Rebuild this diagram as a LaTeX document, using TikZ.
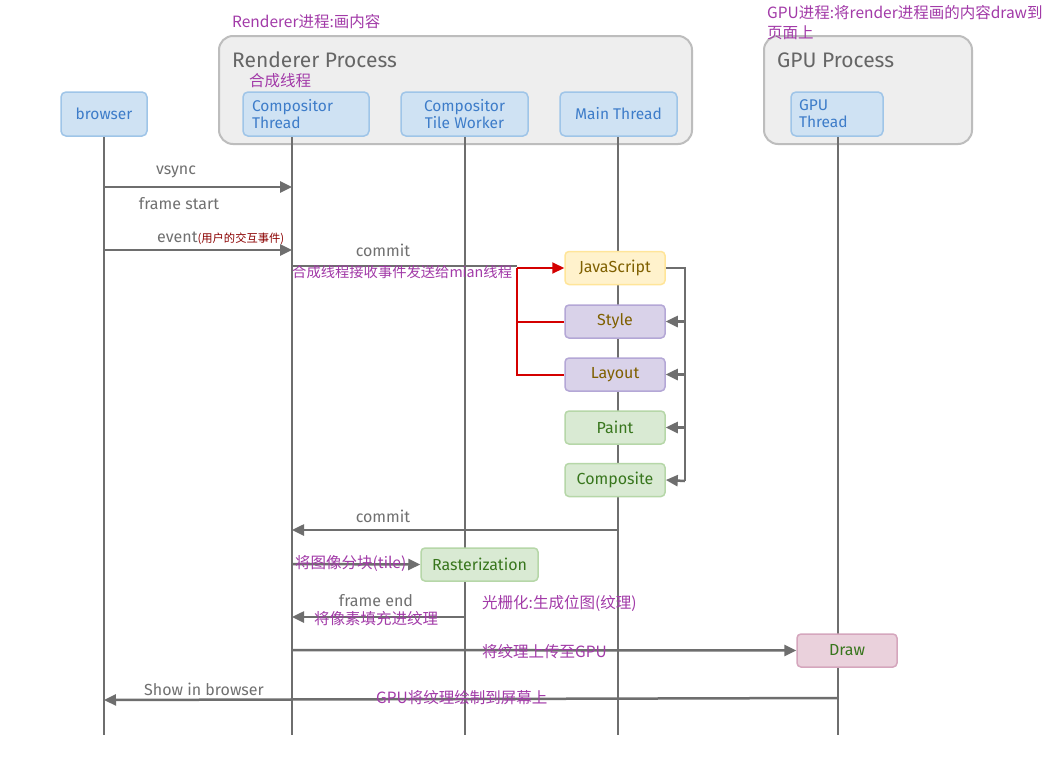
\documentclass[tikz,border=0pt]{standalone}
\usepackage{fontspec}
\setmainfont{Fira Sans}
\newfontfamily\cjk{Noto Sans CJK SC}
\usetikzlibrary{arrows.meta}
\definecolor{lline}{HTML}{6E6E6E}
\definecolor{blfill}{HTML}{CFE2F3}
\definecolor{bldraw}{HTML}{9FC5E8}
\definecolor{bltext}{HTML}{3D7CC9}
\definecolor{procfill}{HTML}{EEEEEE}
\definecolor{procdraw}{HTML}{BDBDBD}
\definecolor{proctext}{HTML}{666666}
\definecolor{ylfill}{HTML}{FFF2CC}
\definecolor{yldraw}{HTML}{FFE599}
\definecolor{yltext}{HTML}{7F6000}
\definecolor{pufill}{HTML}{D9D2E9}
\definecolor{pudraw}{HTML}{B4A7D6}
\definecolor{grfill}{HTML}{D9EAD3}
\definecolor{grdraw}{HTML}{B6D7A8}
\definecolor{grtext}{HTML}{38761D}
\definecolor{pkfill}{HTML}{EAD1DC}
\definecolor{pkdraw}{HTML}{D5A6BD}
\definecolor{note}{HTML}{A23AA8}
\definecolor{darkred}{HTML}{8B0000}
\definecolor{redline}{HTML}{D40000}
\definecolor{msgtext}{HTML}{707070}
\begin{document}
\begin{tikzpicture}[x=1pt,y=-1pt,
  proc/.style={draw=procdraw, fill=procfill, line width=2pt, rounded corners=14pt},
  proctitle/.style={text=proctext, font=\fontsize{21}{23}\selectfont, anchor=west, inner sep=0pt},
  actor/.style={draw=bldraw, fill=blfill, line width=1.5pt, rounded corners=5pt, text=bltext,
    font=\fontsize{15.5}{17}\selectfont, align=left, inner sep=0pt, minimum height=44pt},
  task/.style={line width=1.5pt, rounded corners=4pt, inner sep=0pt, minimum width=100pt,
    minimum height=33pt, font=\fontsize{16}{17}\selectfont},
  yl/.style={task, draw=yldraw, fill=ylfill, text=yltext},
  pu/.style={task, draw=pudraw, fill=pufill, text=yltext},
  gr/.style={task, draw=grdraw, fill=grfill, text=grtext},
  pk/.style={task, draw=pkdraw, fill=pkfill, text=grtext},
  life/.style={draw=lline, line width=2.5pt},
  msg/.style={draw=lline, line width=2.5pt, -{Triangle[length=12pt,width=11pt]}},
  line/.style={draw=lline, line width=2.5pt},
  redl/.style={draw=redline, line width=2pt},
  mlabel/.style={text=msgtext, font=\fontsize{16}{17}\selectfont, inner sep=0pt},
  notel/.style={text=note, font=\cjk\fontsize{15.5}{18}\selectfont, inner sep=0pt, anchor=west}
]
\useasboundingbox (0,0) rectangle (1052,771);
\fill[white] (0,0) rectangle (1052,771);

% process containers
\node[proc, minimum width=473pt, minimum height=108pt, inner sep=0pt] (rp) at (455.5,90) {};
\node[proc, minimum width=208pt, minimum height=108pt, inner sep=0pt] (gp) at (868,90) {};
\node[proctitle] (rpt) at (232,60) {Renderer Process};
\node[proctitle] (gpt) at (777,60) {GPU Process};

% lifeline coordinates
\coordinate (bt) at (104,136); \coordinate (bb) at (104,735);
\coordinate (ctt) at (292,136); \coordinate (ctb) at (292,735);
\coordinate (twt) at (465,136); \coordinate (twb) at (465,735);
\coordinate (mtt) at (618,136); \coordinate (mtb) at (618,735);
\coordinate (gtt) at (838,136); \coordinate (gtb) at (838,735);
\draw[life] (bt) -- (bb);
\draw[life] (ctt) -- (ctb);
\draw[life] (twt) -- (twb);
\draw[life] (mtt) -- (mtb);
\draw[life] (gtt) -- (gtb);

% actors
\node[actor, minimum width=86pt, align=center] (browser) at (104,114) {browser};
\node[actor, minimum width=126pt, text width=108pt] (ct) at (306,114) {Compositor\\Thread};
\node[actor, minimum width=127pt, align=center] (tw) at (464.5,114) {Compositor\\Tile Worker};
\node[actor, minimum width=117pt, align=center] (mt) at (618.5,114) {Main Thread};
\node[actor, minimum width=92pt, text width=76pt] (gt) at (837,114) {GPU\\Thread};

% messages: browser -> compositor
\coordinate (v1) at (104,187); \coordinate (v2) at (292,187);
\draw[msg] (v1) -- (v2);
\node[mlabel] (vsync) at (176,172) {vsync};
\node[mlabel] (fstart) at (179,204) {frame start};
\coordinate (e1) at (104,250); \coordinate (e2) at (292,250);
\draw[msg] (e1) -- (e2);
\node[mlabel, anchor=west] (event) at (157,238) {event{\cjk\color{darkred}\fontsize{11.3}{13}\selectfont (用户的交互事件)}};

% main thread tasks
\node[yl] (js) at (615,268) {JavaScript};
\node[pu] (style) at (615,321.5) {Style};
\node[pu] (layout) at (615,374.5) {Layout};
\node[gr] (paint) at (615,427.5) {Paint};
\node[gr] (comp) at (615,480) {Composite};

% commit to main thread
\coordinate (c1) at (292,266); \coordinate (rj) at (517,266); \coordinate (rj2) at (517,268);
\draw[line] (c1) -- (rj);
\draw[redl, -{Triangle[length=12pt,width=11pt]}] (rj2) -- (js.west);
\draw[redl] (rj2) |- (layout.west);
\draw[redl] (rj2 |- style.west) -- (style.west);
\node[mlabel] (commit1) at (383,250) {commit};

% right loop
\coordinate (lp1) at (685,268); \coordinate (lp2) at (685,481);
\draw[line] (js.east) -- (lp1) -- (lp2);
\draw[msg] (lp1 |- style.east) -- (style.east);
\draw[msg] (lp1 |- layout.east) -- (layout.east);
\draw[msg] (lp1 |- paint.east) -- (paint.east);
\draw[msg] (lp2) -- (comp.east);

% commit back
\coordinate (cb1) at (618,530); \coordinate (cb2) at (292,530);
\draw[msg] (cb1) -- (cb2);
\node[mlabel] (commit2) at (383,516) {commit};

% rasterization
\node[gr, minimum width=117pt] (raster) at (479.5,564.5) {Rasterization};
\coordinate (r1) at (292,564);
\draw[msg] (r1) -- (raster.west);
\coordinate (fe1) at (465,617); \coordinate (fe2) at (292,617);
\draw[msg] (fe1) -- (fe2);
\node[mlabel] (fend) at (376,601) {frame end};

% draw
\node[pk] (draw) at (847,650.5) {Draw};
\coordinate (d1) at (292,650);
\draw[msg] (d1) -- (draw.west);
\coordinate (s1) at (838,698); \coordinate (s2) at (104,700);
\draw[msg] (s1) -- (s2);
\node[mlabel] (show) at (204,689) {Show in browser};

% purple notes
\node[notel] (n1) at (232,22) {Renderer进程:画内容};
\node[notel] (n2) at (249,81) {合成线程};
\node[notel, align=left, text width=300pt, font=\cjk\fontsize{15.5}{20}\selectfont] (n3) at (767,23) {GPU进程:将render进程画的内容draw到\\页面上};
\node[notel, font=\cjk\fontsize{14.3}{17}\selectfont] (n4) at (292,272) {合成线程接收事件发送给mian线程};
\node[notel] (n5) at (295,564) {将图像分块(tile)};
\node[notel] (n6) at (314,619) {将像素填充进纹理};
\node[notel] (n7) at (482,603) {光栅化:生成位图(纹理)};
\node[notel] (n8) at (482,652) {将纹理上传至GPU};
\node[notel] (n9) at (376,698) {GPU将纹理绘制到屏幕上};
\end{tikzpicture}
\end{document}
